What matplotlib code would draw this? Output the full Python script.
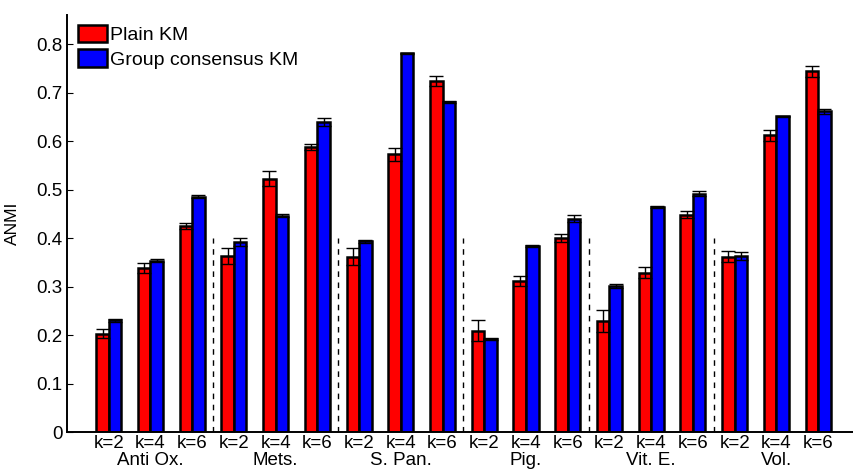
import numpy as np
import matplotlib.pyplot as plt

plt.rcParams['font.family'] = ['Liberation Sans', 'DejaVu Sans']

datasets = ['Anti Ox.', 'Mets.', 'S. Pan.', 'Pig.', 'Vit. E.', 'Vol.']
k_labels = ['k=2', 'k=4', 'k=6']

# ANMI, one entry per (dataset, k)
plain_km = [0.203, 0.338, 0.425,
            0.363, 0.523, 0.588,
            0.362, 0.573, 0.724,
            0.209, 0.311, 0.401,
            0.229, 0.329, 0.448,
            0.362, 0.612, 0.744]
plain_err = [0.009, 0.010, 0.007,
             0.017, 0.015, 0.007,
             0.017, 0.014, 0.010,
             0.022, 0.010, 0.008,
             0.022, 0.012, 0.007,
             0.012, 0.012, 0.011]
group_km = [0.231, 0.353, 0.485,
            0.392, 0.446, 0.639,
            0.394, 0.781, 0.681,
            0.192, 0.383, 0.440,
            0.301, 0.465, 0.492,
            0.363, 0.651, 0.662]
group_err = [0.003, 0.003, 0.003,
             0.008, 0.003, 0.008,
             0.003, 0.002, 0.002,
             0.002, 0.002, 0.007,
             0.004, 0.002, 0.006,
             0.008, 0.002, 0.005]

n = len(plain_km)
x = np.arange(1, n + 1)
w = 0.3

fig = plt.figure(figsize=(8.54, 4.75), dpi=100)
ax = fig.add_axes([0.0785, 0.0905, 0.92, 0.8775])

ax.bar(x - w/2, plain_km, w, color='#ff0000', edgecolor='k', linewidth=1.8,
       label='Plain KM', zorder=2)
ax.bar(x + w/2, group_km, w, color='#0000ff', edgecolor='k', linewidth=1.8,
       label='Group consensus KM', zorder=2)
ax.errorbar(x - w/2, plain_km, yerr=plain_err, fmt='none', ecolor='k',
            elinewidth=1, capsize=4.7, capthick=1, zorder=3)
ax.errorbar(x + w/2, group_km, yerr=group_err, fmt='none', ecolor='k',
            elinewidth=1, capsize=4.7, capthick=1, zorder=3)

# separators between datasets
for i in range(1, len(datasets)):
    ax.plot([3*i + 0.5, 3*i + 0.5], [0, 0.4], '--', color='k', lw=1,
            dashes=(4, 4), zorder=1)

ax.set_xlim(0, 18.83)
ax.set_ylim(0, 0.86)
ax.set_yticks(np.arange(0, 0.81, 0.1))
ax.set_yticklabels(['0', '0.1', '0.2', '0.3', '0.4', '0.5', '0.6', '0.7', '0.8'])
ax.set_xticks(x)
ax.set_xticklabels(k_labels * len(datasets))
ax.tick_params(direction='in', length=4, width=0.8, labelsize=13.5, pad=3)
ax.tick_params(axis='x', pad=2)

for i, name in enumerate(datasets):
    ax.text(3*i + 2, -0.041, name, ha='center', va='top', fontsize=13.5,
            transform=ax.transData, clip_on=False)

ax.set_ylabel('ANMI', fontsize=12.5, labelpad=12)
ax.spines['top'].set_visible(False)
ax.spines['right'].set_visible(False)
ax.spines['left'].set_linewidth(1.4)
ax.spines['bottom'].set_linewidth(1.4)

ax.legend(loc='upper left', bbox_to_anchor=(0.004, 0.995), frameon=False,
          fontsize=14, handlelength=1.5, handleheight=1.0,
          handletextpad=0.15, labelspacing=0.25, borderaxespad=0.2,
          borderpad=0.2)

fig.savefig('out.png', dpi=100)
